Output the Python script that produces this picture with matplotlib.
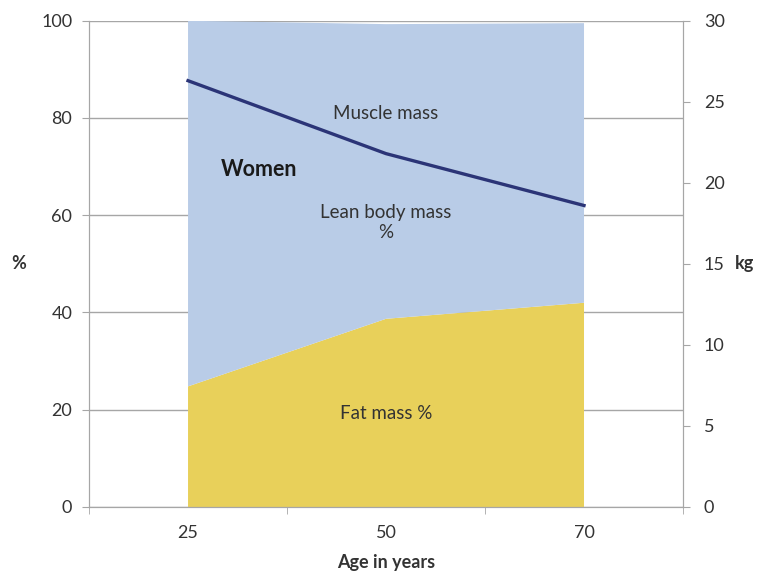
import matplotlib

matplotlib.use("Agg")
import matplotlib.pyplot as plt
import numpy as np

AGES = ["25", "50", "70"]
FAT_PCT = [24.8, 38.7, 42.0]
LEAN_PCT = [75.2, 60.6, 57.5]
MUSCLE_KG = [26.3, 21.8, 18.6]

BLUE = "#B9CCE7"
YELLOW = "#E8D05A"
NAVY = "#2B3477"
GREY = "#A6A6A6"
TEXT = "#333333"

plt.rcParams.update({"font.family": ["Lato", "DejaVu Sans"], "font.size": 12})

fig = plt.figure(figsize=(7.61, 5.79), dpi=100)
ax = fig.add_axes([0.117, 0.1244, 0.7805, 0.8398])
x = np.arange(len(AGES))

ax.stackplot(x, FAT_PCT, LEAN_PCT, colors=[YELLOW, BLUE], linewidth=0, zorder=2)
ax.set_xlim(-0.5, 2.5)
ax.set_ylim(0, 100)
ax.set_yticks(np.arange(0, 101, 20))
ax.yaxis.grid(True, color=GREY, linewidth=1.0, zorder=0)
ax.set_axisbelow(True)
ax.set_xticks(x)
ax.set_xticklabels(AGES)
ax.set_xticks([-0.5, 0.5, 1.5, 2.5], minor=True)
ax.tick_params(axis="x", which="major", length=0, pad=13, labelsize=13, colors=TEXT)
ax.tick_params(axis="x", which="minor", length=5, color=GREY)
ax.tick_params(axis="y", length=5, color=GREY, labelsize=13, labelcolor=TEXT, pad=7)
for side in ["left", "right", "bottom"]:
    ax.spines[side].set_color(GREY)
ax.spines["top"].set_visible(False)
ax.set_xlabel("Age in years", fontweight="bold", fontsize=13, color=TEXT, labelpad=9)
ax.set_ylabel("%", fontweight="bold", fontsize=13, rotation=0, color=TEXT, labelpad=16, va="center")

ax2 = ax.twinx()
ax2.plot(x, MUSCLE_KG, color=NAVY, linewidth=2.4, zorder=3)
ax2.set_ylim(0, 30)
ax2.set_yticks(np.arange(0, 31, 5))
ax2.tick_params(axis="y", length=5, color=GREY, labelsize=13, labelcolor=TEXT, pad=10)
for side in ["left", "right", "bottom"]:
    ax2.spines[side].set_color(GREY)
ax2.spines["top"].set_visible(False)
ax2.set_ylabel("kg", fontweight="bold", fontsize=13, rotation=0, color=TEXT, labelpad=14, va="center")

ax.text(1.0, 81, "Muscle mass", ha="center", va="center", fontsize=13.5, color=TEXT)
ax.text(0.36, 69.5, "Women", ha="center", va="center", fontsize=15.5, fontweight="bold", color="#1A1A1A")
ax.text(1.0, 58.5, "Lean body mass\n%", ha="center", va="center", fontsize=13.5, color=TEXT, linespacing=1.25)
ax.text(1.0, 19.3, "Fat mass %", ha="center", va="center", fontsize=13.5, color=TEXT)

fig.savefig("out.png", dpi=100, facecolor="white")
